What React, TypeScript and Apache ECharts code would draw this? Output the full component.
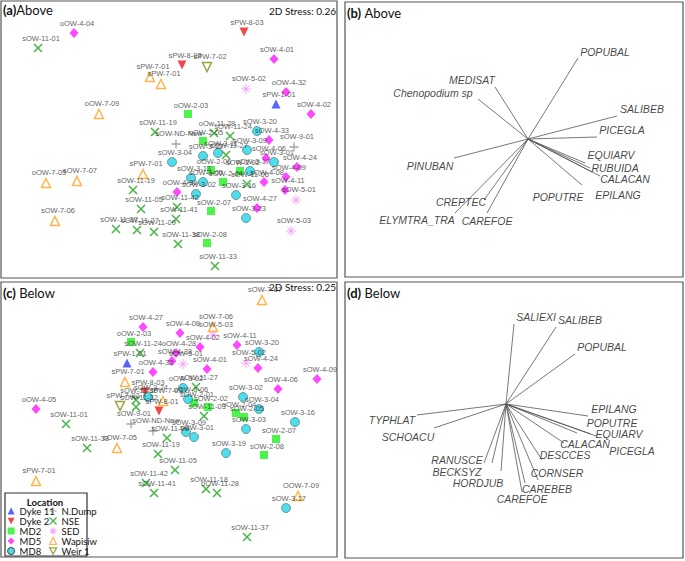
import React, { useEffect, useRef } from "react";
import * as echarts from "echarts";

// ---------- Legend groups ----------
const GROUPS = ["Dyke 11", "Dyke 2", "MD2", "MD5", "MD8", "N.Dump", "NSE", "SED", "Wapisiw", "Weir 1"];

// ---------- Panel (a) Above : NMDS site scores (plot units) ----------
const aSamples = [
  "oOW-4-04", "sOW-11-01", "sPW-8-03", "sOW-4-01", "sPW-8-03", "sPW-7-02", "sPW-7-01", "sPW-7-01",
  "sOW-5-02", "oOW-4-32", "sPW-1-01", "sOW-4-02", "oOW-2-03", "oOW-7-09", "sOW-11-19", "oOw-11-28",
  "sOW-11-24", "sOW-3-20", "sOW-4-33", "oOW-2-05", "sOW-ND-New", "sOW-9-01", "sOW-3-09", "sOW-3-12",
  "sOW-3-11", "sOW-11-27", "sOW-4-06", "sOW-3-01", "sOW-3-04", "sOW-4-24", "oOW-2-06", "sOW-2-02",
  "sOW-3-17", "sOW-4-09", "sOW-3-13", "sOW-3-05", "sOW-2-04", "sOW-11-06", "sOW-4-08", "sOW-4-11",
  "sOW-3-16", "oOW-4-30", "sOW-3-02", "sOW-11-42", "sOW-5-01", "sOW-4-27", "sOW-3-23", "sOW-2-07",
  "sOW-11-41", "sOW-5-03", "sOW-11-38", "sOW-2-08", "sOW-11-33", "oOW-7-05", "sOW-7-07", "sPW-7-01",
  "sOW-11-19", "sOW-11-05", "sOW-7-06", "sOW-11-37", "sOW-11-27", "sOW-11-09",
];
const aGroups = [
  "MD5", "NSE", "Dyke 2", "MD5", "Dyke 2", "Weir 1", "Wapisiw", "Wapisiw",
  "SED", "MD5", "Dyke 11", "MD5", "MD2", "Wapisiw", "NSE", "NSE",
  "NSE", "MD8", "MD5", "MD2", "N.Dump", "N.Dump", "MD8", "MD8",
  "MD8", "NSE", "MD5", "MD8", "MD8", "MD5", "MD2", "MD2",
  "MD8", "MD5", "MD8", "MD8", "MD2", "NSE", "MD5", "MD5",
  "MD8", "MD5", "MD8", "NSE", "SED", "MD5", "MD8", "MD2",
  "NSE", "SED", "NSE", "MD2", "NSE", "Wapisiw", "Wapisiw", "Wapisiw",
  "NSE", "NSE", "Wapisiw", "NSE", "NSE", "NSE",
];
const aX = [
  74, 38, 244, 274, 182, 207, 150, 161,
  246, 286, 276, 311, 188, 99, 155, 214,
  230, 257, 269, 203, 176, 294, 247, 203,
  218, 226, 266, 274, 172, 297, 211, 240,
  250, 286, 191, 203, 223, 247, 264, 285,
  236, 177, 196, 177, 296, 257, 246, 211,
  176, 291, 178, 207, 215, 46, 77, 143,
  133, 141, 55, 116, 137, 154,
];
const aY = [
  33, 48, 32, 59, 65, 67, 77, 84,
  89, 92, 104, 114, 114, 114, 132, 133,
  136, 131, 140, 141, 144, 147, 150, 156,
  153, 155, 158, 162, 162, 167, 170, 171,
  171, 177, 178, 182, 182, 184, 182, 190,
  195, 192, 194, 207, 200, 208, 218, 211,
  219, 231, 244, 243, 266, 183, 181, 174,
  190, 209, 221, 229, 230, 232,
];

// ---------- Panel (c) Below : NMDS site scores (plot units) ----------
const cSamples = [
  "sOW-7-07", "sOW-4-27", "sOW-4-08", "sOW-7-06", "sOW-5-03", "oOW-2-03", "sOW-4-02", "sOW-4-11",
  "sOW-3-20", "sOW-11-24", "oOW-4-28", "sOW-4-33", "sPW-1-01", "sOW-5-01", "sOW-4-01", "sOW-5-02",
  "sOW-4-24", "oOW-4-32", "sOW-4-09", "sPW-7-01", "oOW-3-02", "sOW-11-27", "sOW-4-06", "sPW-8-03",
  "sOW-3-24", "sOW-11-30", "sOW-11-32", "sPW-7-02", "sPW-7-03", "sPW-8-01", "oOW-3-06", "sOW-2-01",
  "sOW-2-02", "sOW-11-03", "sOW-3-02", "sOW-3-04", "oOW-2-04", "sOW-2-05", "oOW-4-05", "sOW-11-01",
  "sOW-9-01", "sOW-ND-New", "sOW-3-09", "sOW-3-01", "sOW-11-08", "sOW-3-16", "sOW-3-03", "sOW-2-07",
  "sOW-11-33", "sOW-7-05", "sOW-11-19", "sOW-3-19", "sOW-2-08", "sOW-11-05", "sPW-7-01", "sOW-11-42",
  "sOW-11-41", "sOW-11-18", "oOW-11-28", "OOW-7-09", "sOW-3-17", "sOW-11-37",
];
const cGroups = [
  "Wapisiw", "MD5", "MD5", "Wapisiw", "SED", "MD2", "MD5", "MD5",
  "MD8", "NSE", "MD5", "MD5", "Dyke 11", "SED", "MD5", "SED",
  "MD5", "MD5", "MD5", "Wapisiw", "MD8", "NSE", "MD5", "Dyke 2",
  "MD8", "NSE", "NSE", "Weir 1", "Wapisiw", "Dyke 2", "MD8", "MD2",
  "MD2", "NSE", "MD8", "MD8", "MD2", "MD2", "MD5", "NSE",
  "N.Dump", "N.Dump", "MD8", "MD8", "NSE", "MD8", "MD8", "MD2",
  "NSE", "Wapisiw", "NSE", "MD8", "MD2", "NSE", "Wapisiw", "NSE",
  "NSE", "NSE", "NSE", "Wapisiw", "MD8", "NSE",
];
const cX = [
  262, 143, 180, 213, 213, 131, 200, 237,
  259, 140, 176, 172, 127, 183, 207, 246,
  258, 153, 317, 125, 183, 196, 278, 145,
  148, 136, 136, 120, 163, 159, 188, 194,
  208, 204, 243, 259, 236, 244, 36, 66,
  131, 153, 186, 194, 167, 295, 246, 276,
  87, 117, 158, 226, 264, 175, 36, 146,
  154, 206, 217, 298, 286, 247,
];
const cY = [
  300, 327, 333, 327, 335, 342, 347, 345,
  352, 353, 353, 361, 363, 364, 369, 363,
  368, 372, 379, 382, 388, 387, 389, 392,
  397, 400, 407, 406, 401, 411, 399, 403,
  407, 416, 397, 409, 413, 417, 409, 424,
  424, 431, 432, 437, 438, 422, 429, 439,
  448, 448, 454, 453, 455, 470, 481, 483,
  493, 489, 493, 496, 508, 537,
];

// ---------- Panel (b) Above : species vectors ----------
const bOrigin = [528, 139];
const bSpecies = ["POPUBAL", "MEDISAT", "Chenopodium sp", "SALIBEB", "PICEGLA", "EQUIARV", "RUBUIDA",
  "CALACAN", "EPILANG", "POPUTRE", "PINUBAN", "CREPTEC", "ELYMTRA_TRA", "CAREFOE"];
const bEndX = [578, 495, 478, 617, 597, 585, 590, 592, 600, 582, 454, 484, 455, 487];
const bEndY = [58, 87, 99, 116, 137, 163, 168, 172, 176, 185, 158, 200, 213, 213];
const bLabelX = [605, 472, 433, 642, 622, 611, 615, 625, 618, 558, 430, 461, 417, 487];
const bLabelY = [52, 80, 93, 109, 130, 155, 168, 179, 195, 197, 166, 202, 220, 221];

// ---------- Panel (d) Below : species vectors ----------
const dOrigin = [506, 404];
const dSpecies = ["SALIEXI", "SALIBEB", "POPUBAL", "EPILANG", "POPUTRE", "EQUIARV", "PICEGLA", "CALACAN",
  "DESCCES", "CORNSER", "CAREBEB", "CAREFOE", "HORDJUB", "BECKSYZ", "RANUSCE", "SCHOACU", "TYPHLAT"];
const dEndX = [514, 556, 575, 588, 577, 591, 596, 564, 542, 538, 525, 522, 501, 492, 484, 434, 417];
const dEndY = [324, 327, 354, 416, 433, 434, 436, 443, 460, 480, 483, 492, 471, 463, 463, 428, 415];
const dLabelX = [536, 580, 602, 614, 612, 619, 632, 585, 565, 557, 547, 522, 478, 457, 457, 408, 392];
const dLabelY = [317, 320, 347, 409, 423, 434, 451, 444, 455, 473, 489, 499, 483, 472, 460, 437, 420];

const DOWN_TRI = "path://M0,0 L10,0 L5,9 Z";
const STYLE: Record<string, any> = {
  "Dyke 11": { symbol: "triangle", size: 9, item: { color: "#2a3cff" } },
  "Dyke 2": { symbol: DOWN_TRI, size: 9, item: { color: "#ee1c1c" } },
  MD2: { symbol: "rect", size: 8, item: { color: "#1ff01f" } },
  MD5: { symbol: "diamond", size: [9, 10], item: { color: "#ff1aff" } },
  MD8: { symbol: "circle", size: 9, item: { color: "#22d6e6", borderColor: "#3a3a3a", borderWidth: 0.6 } },
  "N.Dump": { symbol: "path://M5,0 L5,10 M0,5 L10,5", size: 9, item: { color: "rgba(0,0,0,0)", borderColor: "#8c8c8c", borderWidth: 1.3 } },
  NSE: { symbol: "path://M0,0 L10,10 M10,0 L0,10", size: 8, item: { color: "rgba(0,0,0,0)", borderColor: "#17a317", borderWidth: 1.5 } },
  SED: { symbol: "path://M5,0 L5,10 M0,5 L10,5 M1.5,1.5 L8.5,8.5 M8.5,1.5 L1.5,8.5", size: 10, item: { color: "rgba(0,0,0,0)", borderColor: "#ff8cff", borderWidth: 1 } },
  Wapisiw: { symbol: "triangle", size: 9, item: { color: "rgba(255,255,255,0)", borderColor: "#ffa31a", borderWidth: 1.5 } },
  "Weir 1": { symbol: DOWN_TRI, size: 9, item: { color: "rgba(255,255,255,0)", borderColor: "#8a8a14", borderWidth: 1.5 } },
};

const LABEL_FONT = "'Liberation Sans', Arial, sans-serif";
const TITLE_FONT = "Lato, 'Open Sans', sans-serif";

function siteSeries(axis: number, names: string[], groups: string[], xs: number[], ys: number[]) {
  return GROUPS.map((g) => {
    const st = STYLE[g];
    const data: any[] = [];
    names.forEach((n, i) => {
      if (groups[i] === g) data.push({ name: n, value: [xs[i], ys[i]] });
    });
    return {
      type: "scatter",
      name: g,
      xAxisIndex: axis,
      yAxisIndex: axis,
      symbol: st.symbol,
      symbolSize: st.size,
      itemStyle: st.item,
      data,
      label: {
        show: true,
        position: "top",
        distance: 1,
        offset: [3, 0],
        formatter: "{b}",
        fontSize: 7.5,
        fontFamily: LABEL_FONT,
        color: "#333",
      },
      emphasis: { disabled: true },
      z: 3,
    };
  });
}

function vectorSeries(axis: number, origin: number[], names: string[], ex: number[], ey: number[], lx: number[], ly: number[]) {
  return [
    {
      type: "lines",
      coordinateSystem: "cartesian2d",
      xAxisIndex: axis,
      yAxisIndex: axis,
      lineStyle: { color: "#555", width: 0.8, opacity: 1 },
      data: names.map((n, i) => ({ name: n, coords: [origin, [ex[i], ey[i]]] })),
      silent: true,
    },
    {
      type: "scatter",
      name: "species" + axis,
      xAxisIndex: axis,
      yAxisIndex: axis,
      symbolSize: 1,
      itemStyle: { color: "rgba(0,0,0,0)" },
      data: names.map((n, i) => ({ name: n, value: [lx[i], ly[i]] })),
      label: {
        show: true,
        position: "inside",
        formatter: "{b}",
        fontSize: 10.5,
        fontStyle: "italic",
        fontFamily: LABEL_FONT,
        color: "#111",
      },
      silent: true,
    },
  ];
}

const GRIDS = [
  { left: 1, top: 1, width: 336, height: 277 },
  { left: 345, top: 2, width: 338, height: 275 },
  { left: 1, top: 282, width: 336, height: 275 },
  { left: 345, top: 282, width: 338, height: 276 },
];

export default function App() {
  const ref = useRef<HTMLDivElement>(null);
  useEffect(() => {
    if (!ref.current) return;
    const chart = echarts.init(ref.current, undefined, { renderer: "svg" });
    const grid = GRIDS.map((g) => ({ ...g, show: true, borderColor: "#555", borderWidth: 1.2, backgroundColor: "#fff" }));
    const xAxis = GRIDS.map((g, i) => ({
      type: "value", gridIndex: i, min: g.left, max: g.left + g.width, show: false,
    }));
    const yAxis = GRIDS.map((g, i) => ({
      type: "value", gridIndex: i, min: g.top, max: g.top + g.height, inverse: true, show: false,
    }));
    const title = (x: number, y: number, a: string, sep: string, w: string) => ({
      type: "text",
      x, y,
      z: 20,
      style: {
        text: `{b|${a}}${sep}{n|${w}}`,
        rich: {
          b: { fontWeight: "bold", fontSize: 13, fontFamily: TITLE_FONT, fill: "#111" },
          n: { fontSize: 13, fontFamily: TITLE_FONT, fill: "#111" },
        },
        verticalAlign: "top",
        fontSize: 13,
        fontFamily: TITLE_FONT,
        fill: "#111",
      },
    });
    const legendCommon = {
      orient: "vertical",
      itemWidth: 7,
      itemHeight: 7,
      itemGap: 0,
      padding: 0,
      selectedMode: false,
      itemStyle: { borderWidth: 1.2 },
      textStyle: { fontSize: 9.5, fontFamily: TITLE_FONT, color: "#111", lineHeight: 9 },
      z: 30,
    };
    chart.setOption({
      animation: false,
      backgroundColor: "#fff",
      grid,
      xAxis,
      yAxis,
      legend: [
        { ...legendCommon, data: GROUPS.slice(0, 5), left: 7, top: 506 },
        { ...legendCommon, data: GROUPS.slice(5), left: 49, top: 506 },
      ],
      graphic: [
        title(3, 3, "(a)", "", "Above"),
        title(347, 6, "(b)", " ", "Above"),
        title(3, 286, "(c)", " ", "Below"),
        title(347, 286, "(d)", " ", "Below"),
        {
          type: "text", x: 336, y: 11, z: 20,
          style: { text: "2D Stress: 0.26", align: "right", verticalAlign: "middle", fontSize: 10, fontFamily: TITLE_FONT, fill: "#111" },
        },
        {
          type: "text", x: 336, y: 287, z: 20,
          style: { text: "2D Stress: 0.25", align: "right", verticalAlign: "middle", fontSize: 10, fontFamily: TITLE_FONT, fill: "#111" },
        },
        {
          type: "rect", z: 25,
          shape: { x: 5, y: 493, width: 82, height: 63 },
          style: { fill: "#fff", stroke: "#333", lineWidth: 1.2 },
        },
        {
          type: "text", x: 45, y: 502, z: 26,
          style: { text: "Location", align: "center", verticalAlign: "middle", fontSize: 9.5, fontWeight: "bold", fontFamily: TITLE_FONT, fill: "#111" },
        },
      ],
      series: [
        ...siteSeries(0, aSamples, aGroups, aX, aY),
        ...vectorSeries(1, bOrigin, bSpecies, bEndX, bEndY, bLabelX, bLabelY),
        ...siteSeries(2, cSamples, cGroups, cX, cY),
        ...vectorSeries(3, dOrigin, dSpecies, dEndX, dEndY, dLabelX, dLabelY),
      ],
    });
    return () => chart.dispose();
  }, []);
  return <div ref={ref} style={{ position: "fixed", left: 0, top: 0, width: 685, height: 561 }} />;
}
